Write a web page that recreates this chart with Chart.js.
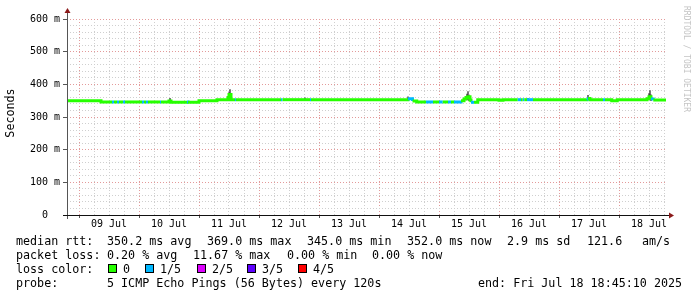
<!DOCTYPE html>
<html>
<head>
<meta charset="utf-8">
<script src="https://cdn.jsdelivr.net/npm/chart.js@4/dist/chart.umd.min.js"></script>
<style>
  body { margin: 0; background: #fff; }
  #wrap { width: 697px; height: 297px; }
</style>
</head>
<body>
<div id="wrap"><canvas id="grafico" width="697" height="297"></canvas></div>
<script>
// horas contadas a partir de 09 Jul 00:00
const rttHours = [-4.8, 8.8, 13.2, 14.0, 15.2, 16.0, 17.6, 18.4, 25.2, 26.0, 26.8, 27.6, 32.4, 32.8,
  36.0, 36.8, 43.2, 43.6, 48.0, 55.2, 59.6, 60.0, 60.8, 62.4, 62.8, 80.8, 81.4, 92.4, 92.8,
  131.6, 133.4, 135.1, 138.8, 141.6, 144.0, 145.5, 147.6, 148.8, 150.0, 152.8, 154.0, 154.8,
  155.6, 156.4, 156.8, 158.0, 159.5, 168.0, 169.6, 175.5, 176.8, 177.5, 178.1, 179.2, 181.6,
  203.1, 203.6, 204.4, 209.6, 210.4, 213.1, 215.3, 227.2, 228.0, 228.8, 229.7, 234.8];
const rttValues = [350, 346, 346, 346, 346, 346, 346, 346, 346, 346, 346, 346, 346, 346,
  349, 345, 346, 345, 350, 353, 360, 369, 353, 353, 353, 353, 353, 353, 353,
  356, 349, 346, 346, 346, 346, 346, 346, 346, 346, 350, 355, 360,
  362, 352, 345, 345, 353, 351, 353, 353, 353, 353, 353, 353, 353,
  355, 357, 353, 353, 353, 350, 353, 356, 362, 355, 352, 352];
const lossLevel = [0, 0, 1, 0, 1, 0, 1, 0, 1, 0, 1, 0, 1, 0,
  0, 0, 1, 0, 0, 0, 0, 0, 0, 1, 0, 1, 0, 1, 0,
  1, 0, 0, 1, 0, 1, 0, 1, 0, 1, 0, 0, 0,
  0, 0, 1, 0, 0, 0, 0, 1, 0, 1, 0, 1, 0,
  1, 0, 0, 1, 0, 0, 0, 0, 0, 1, 0, 0];

// fumaça (dispersão dos pings)
const smokeHours = [36.4, 60.0, 60.4, 90.4, 131.6, 155.2, 155.6, 156.0, 179.6, 203.6, 204.0, 228.0, 228.4, 228.8];
const smokeLow   = [348, 352, 356, 353, 353, 352, 355, 350, 352, 353, 352, 353, 356, 350];
const smokeHigh  = [357, 375, 384, 359, 362, 370, 378, 366, 357, 366, 360, 372, 381, 368];

const dayLabels = ['09 Jul', '10 Jul', '11 Jul', '12 Jul', '13 Jul', '14 Jul', '15 Jul', '16 Jul', '17 Jul', '18 Jul'];
const lossNames = ['0', '1/5', '2/5', '3/5', '4/5'];
const lossColors = ['#26ff00', '#00b8ff', '#dd00ff', '#5e00ff', '#ff0000'];

const MONO = "'DejaVu Sans Mono', monospace";

const extras = {
  id: 'extras',
  afterDraw(chart) {
    const ctx = chart.ctx;
    const a = chart.chartArea;
    ctx.save();

    // eixos
    ctx.strokeStyle = '#555';
    ctx.lineWidth = 1;
    ctx.beginPath();
    ctx.moveTo(a.left + 0.5, a.bottom + 4);
    ctx.lineTo(a.left + 0.5, 13);
    ctx.stroke();
    ctx.strokeStyle = '#111';
    ctx.beginPath();
    ctx.moveTo(a.left - 4, a.bottom + 0.5);
    ctx.lineTo(a.right + 2, a.bottom + 0.5);
    ctx.stroke();

    // setas
    ctx.fillStyle = '#8b1a1a';
    ctx.beginPath();
    ctx.moveTo(a.left + 0.5, 8);
    ctx.lineTo(a.left - 2.5, 13);
    ctx.lineTo(a.left + 3.5, 13);
    ctx.closePath();
    ctx.fill();
    ctx.beginPath();
    ctx.moveTo(674, a.bottom + 0.5);
    ctx.lineTo(669, a.bottom - 2.5);
    ctx.lineTo(669, a.bottom + 3.5);
    ctx.closePath();
    ctx.fill();

    // título do eixo y
    ctx.fillStyle = '#000';
    ctx.font = '11.7px ' + MONO;
    ctx.textAlign = 'center';
    ctx.textBaseline = 'middle';
    ctx.save();
    ctx.translate(11, 113);
    ctx.rotate(-Math.PI / 2);
    ctx.fillText('Seconds', 0, 0);
    ctx.restore();

    // marca d'água
    ctx.save();
    ctx.fillStyle = '#c4c4c4';
    ctx.font = '8px ' + MONO;
    ctx.translate(686, 59);
    ctx.rotate(Math.PI / 2);
    ctx.fillText('RRDTOOL / TOBI OETIKER', 0, 0);
    ctx.restore();

    // legenda
    ctx.textAlign = 'left';
    ctx.font = '11.7px ' + MONO;
    const linha1 = [[16, 'median rtt:'], [107, '350.2 ms avg'], [207, '369.0 ms max'], [307, '345.0 ms min'],
      [407, '352.0 ms now'], [507, '2.9 ms sd'], [587, '121.6'], [642, 'am/s']];
    linha1.forEach(([x, t]) => ctx.fillText(t, x, 241.5));
    const linha2 = [[16, 'packet loss:'], [107, '0.20 % avg'], [193, '11.67 % max'], [287, '0.00 % min'], [372, '0.00 % now']];
    linha2.forEach(([x, t]) => ctx.fillText(t, x, 255.5));
    ctx.fillText('loss color:', 16, 269.5);
    const boxX = [108, 145, 197, 247, 298];
    lossNames.forEach((n, i) => {
      ctx.fillStyle = lossColors[i];
      ctx.fillRect(boxX[i], 264, 9, 9);
      ctx.strokeStyle = '#000';
      ctx.strokeRect(boxX[i] + 0.5, 264.5, 8, 8);
      ctx.fillStyle = '#000';
      ctx.fillText(n, boxX[i] + 15, 269.5);
    });
    ctx.fillText('probe:', 16, 283.5);
    ctx.fillText('5 ICMP Echo Pings (56 Bytes) every 120s', 107, 283.5);
    ctx.fillText('end: Fri Jul 18 18:45:10 2025', 478, 283.5);

    ctx.restore();
  }
};

const ctx = document.getElementById('grafico').getContext('2d');

window.grafico = new Chart(ctx, {
  data: {
    datasets: [{
      type: 'line',
      data: rttHours.map((h, i) => ({ x: h, y: rttValues[i] })),
      borderWidth: 3,
      pointRadius: 0,
      stepped: true,
      borderColor: lossColors[0],
      segment: {
        borderColor: c => lossColors[lossLevel[c.p0DataIndex]]
      },
      order: 0
    }, {
      type: 'bar',
      data: smokeHours.map((h, i) => ({ x: h, y: [smokeLow[i], smokeHigh[i]] })),
      backgroundColor: 'rgba(50,50,50,0.8)',
      barThickness: 1,
      grouped: false,
      order: 1
    }]
  },
  plugins: [extras],
  options: {
    responsive: false,
    animation: false,
    layout: { padding: { left: 0, top: 19, right: 30, bottom: 0 } },
    plugins: { legend: { display: false }, tooltip: { enabled: false } },
    scales: {
      x: {
        type: 'linear',
        min: -4.8,
        max: 235.2,
        offset: false,
        afterFit: s => { s.height = 82; },
        afterBuildTicks: s => {
          const t = [];
          for (let h = 0; h <= 234; h += 6) t.push({ value: h });
          s.ticks = t;
        },
        border: { display: false, dash: [1, 2] },
        grid: {
          offset: false,
          color: c => (c.tick && c.tick.value % 24 === 0) ? '#e39a9a' : '#cfcfcf',
          tickColor: c => (c.tick && c.tick.value % 24 === 0) ? '#555' : 'rgba(0,0,0,0)',
          tickLength: 3
        },
        ticks: {
          autoSkip: false,
          maxRotation: 0,
          padding: 0,
          color: '#000',
          font: { family: MONO, size: 10 },
          callback: v => (v % 24 === 12 ? dayLabels[(v - 12) / 24] : '')
        }
      },
      y: {
        type: 'linear',
        min: 0,
        max: 600,
        afterFit: s => { s.width = 67; },
        border: { display: false, dash: [1, 2] },
        grid: {
          color: c => (c.tick && c.tick.value % 100 === 0) ? '#e39a9a' : '#cfcfcf',
          tickColor: c => (c.tick && c.tick.value % 100 === 0) ? '#555' : 'rgba(0,0,0,0)',
          tickLength: 4
        },
        ticks: {
          stepSize: 20,
          autoSkip: false,
          padding: 3,
          color: '#000',
          font: { family: MONO, size: 10 },
          callback: v => (v % 100 !== 0 ? '' : (v === 0 ? '0  ' : v + ' m'))
        }
      }
    }
  }
});
</script>
</body>
</html>
